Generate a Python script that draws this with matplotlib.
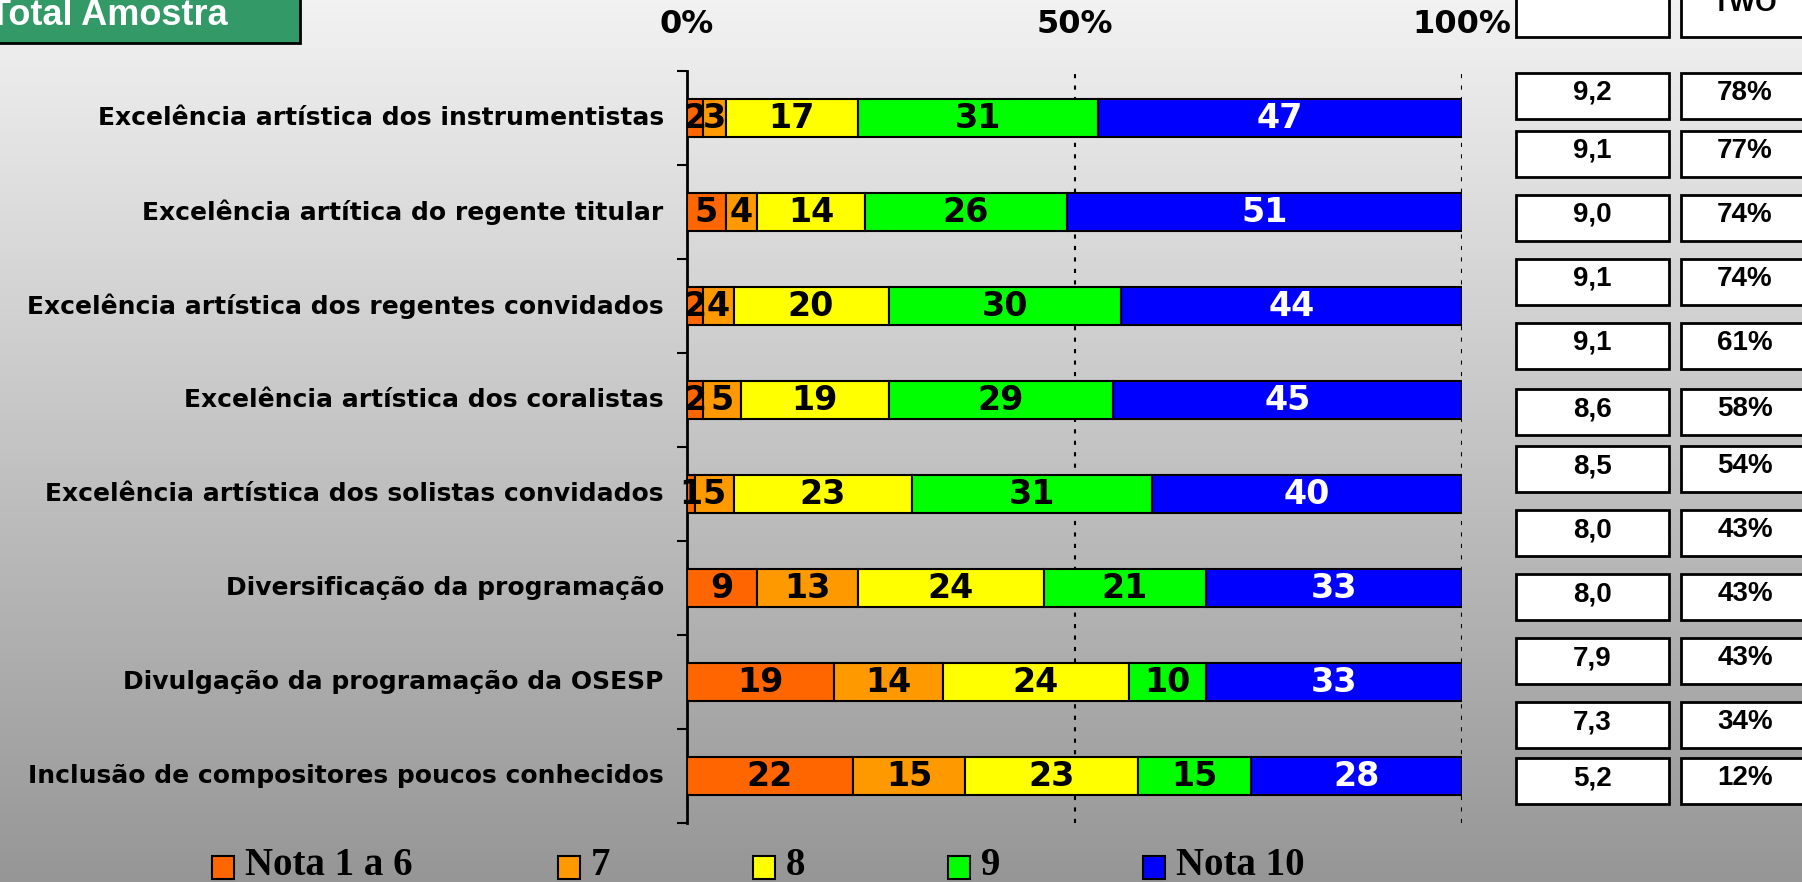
import matplotlib
matplotlib.use("Agg")
import matplotlib.pyplot as plt
import numpy as np
from matplotlib.patches import Rectangle

# ---- data ----
categories = [
    "Excelência artística dos instrumentistas",
    "Excelência artítica do regente titular",
    "Excelência artística dos regentes convidados",
    "Excelência artística dos coralistas",
    "Excelência artística dos solistas convidados",
    "Diversificação da programação",
    "Divulgação da programação da OSESP",
    "Inclusão de compositores poucos conhecidos",
]
nota_1a6 = [2, 5, 2, 2, 1, 9, 19, 22]
nota_7 = [3, 4, 4, 5, 5, 13, 14, 15]
nota_8 = [17, 14, 20, 19, 23, 24, 24, 23]
nota_9 = [31, 26, 30, 29, 31, 21, 10, 15]
nota_10 = [47, 51, 44, 45, 40, 33, 33, 28]
series_names = ["Nota 1 a 6", "7", "8", "9", "Nota 10"]

media = [9.2, 9.1, 9.0, 9.1, 9.1, 8.6, 8.5, 8.0, 8.0, 7.9, 7.3, 5.2]
two = [78, 77, 74, 74, 61, 58, 54, 43, 43, 43, 34, 12]

# ---- style / layout ----
colors = ["#FF6600", "#FF9900", "#FFFF00", "#00FF00", "#0000FF"]
text_colors = ["black", "black", "black", "black", "white"]
W, H = 1802, 882
box_tops = [73, 131, 195, 259, 323, 389, 446, 510, 574, 638, 702, 758]
box_h = 46
legend_x = [212, 558, 753, 948, 1143]


def fx(x):
    return x / W


def fy(y):
    return 1 - y / H


fig = plt.figure(figsize=(W / 100, H / 100), dpi=100)

# gradient background
bg = fig.add_axes([0, 0, 1, 1], zorder=-10)
grad = np.linspace(242, 150, 256).reshape(-1, 1) / 255
bg.imshow(np.dstack([grad, grad, grad]), aspect="auto", extent=[0, 1, 0, 1])
bg.axis("off")

ax = fig.add_axes([fx(687), fy(823), fx(1462) - fx(687), fy(71) - fy(823)])
ax.patch.set_alpha(0)

data = np.array([nota_1a6, nota_7, nota_8, nota_9, nota_10], dtype=float)
pct = data / data.sum(axis=0) * 100
y = np.arange(len(categories))
left = np.zeros(len(categories))
for i in range(len(series_names)):
    ax.barh(y, pct[i], left=left, height=0.41, color=colors[i],
            edgecolor="black", linewidth=1.5, zorder=3)
    for j in range(len(categories)):
        ax.text(left[j] + pct[i][j] / 2, y[j], f"{int(data[i][j])}",
                ha="center", va="center", fontsize=24, fontweight="bold",
                color=text_colors[i], zorder=4)
    left += pct[i]

ax.set_xlim(0, 100)
ax.set_ylim(len(categories) - 0.5, -0.5)
for xv in (50, 100):
    ax.axvline(xv, color="black", lw=1.5, ls=(0, (2, 3.5)), zorder=1)

ax.xaxis.tick_top()
ax.set_xticks([0, 50, 100])
ax.set_xticklabels(["0%", "50%", "100%"], fontsize=23, fontweight="bold")
ax.tick_params(axis="x", length=0, pad=22)
ax.set_yticks(np.arange(-0.5, len(categories), 1.0))
ax.set_yticklabels([])
ax.tick_params(axis="y", length=7, width=1.5, direction="out")
for j, c in enumerate(categories):
    ax.text(-0.03, y[j], c, transform=ax.get_yaxis_transform(), ha="right",
            va="center", fontsize=18, fontweight="bold")
for s in ("top", "right", "bottom"):
    ax.spines[s].set_visible(False)
ax.spines["left"].set_linewidth(2)

# ---- side table ----
def box(x0, y0, w, h, txt=""):
    fig.patches.append(Rectangle((fx(x0), fy(y0 + h)), fx(w), h / H,
                                 transform=fig.transFigure, facecolor="white",
                                 edgecolor="black", linewidth=2))
    if txt:
        fig.text(fx(x0 + w / 2), fy(y0 + h / 2 - 3), txt, ha="center",
                 va="center", fontsize=20, fontweight="bold",
                 family="Liberation Sans")


box(1516, -20, 153, 57)
box(1681, -20, 128, 57)
fig.text(fx(1745), fy(4), "TWO", ha="center", va="center", fontsize=20,
         fontweight="bold", family="Liberation Sans")
for k, top in enumerate(box_tops):
    box(1516, top, 153, box_h, f"{media[k]:.1f}".replace(".", ","))
    box(1681, top, 128, box_h, f"{two[k]}%")

# ---- title tag ----
fig.patches.append(Rectangle((fx(-10), fy(43)), fx(310), 53 / H,
                             transform=fig.transFigure, facecolor="#339966",
                             edgecolor="black", linewidth=2))
fig.text(fx(228), fy(25), "Total Amostra", ha="right", va="baseline",
         fontsize=26, fontweight="bold", color="white", family="Liberation Sans")

# ---- legend ----
for k, name in enumerate(series_names):
    x0 = legend_x[k]
    fig.patches.append(Rectangle((fx(x0), fy(879)), fx(22), 23 / H,
                                 transform=fig.transFigure, facecolor=colors[k],
                                 edgecolor="black", linewidth=1.5))
    fig.text(fx(x0 + 33), fy(875), name, ha="left", va="baseline",
             fontsize=28, fontweight="bold", family="Liberation Serif")

fig.savefig("out.png", dpi=100)
